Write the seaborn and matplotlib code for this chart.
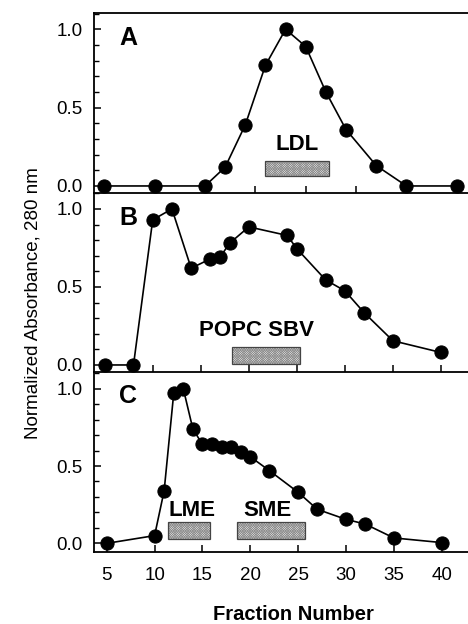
import matplotlib
matplotlib.use("Agg")
import matplotlib.pyplot as plt
import pandas as pd
import seaborn as sns
from matplotlib.patches import Rectangle
from matplotlib.ticker import MultipleLocator

# ---- data ----
a_frac = [5, 10, 15, 17, 19, 21, 23, 25, 27, 29, 32, 35, 40]
a_abs = [0.0, 0.0, 0.0, 0.12, 0.39, 0.77, 1.0, 0.89, 0.60, 0.36, 0.13, 0.0, 0.0]

b_frac = [5, 8, 10, 12, 14, 16, 17, 18, 20, 24, 25, 28, 30, 32, 35, 40]
b_abs = [0.0, 0.0, 0.93, 1.0, 0.62, 0.68, 0.69, 0.78, 0.885, 0.83, 0.745,
         0.545, 0.475, 0.335, 0.155, 0.08]

c_frac = [5, 10, 11, 12, 13, 14, 15, 16, 17, 18, 19, 20, 22, 25, 27, 30, 32, 35, 40]
c_abs = [0.0, 0.05, 0.34, 0.97, 1.0, 0.74, 0.64, 0.64, 0.62, 0.62, 0.59, 0.56,
         0.47, 0.33, 0.22, 0.155, 0.125, 0.035, 0.005]

panel_letters = ["A", "B", "C"]

# elution bands: panel index, name, x-range, y-range, label position
band_panel = [0, 1, 2, 2]
band_name = ["LDL", "POPC SBV", "LME", "SME"]
band_x0 = [21.0, 18.3, 11.4, 18.6]
band_x1 = [27.3, 25.3, 15.8, 25.7]
band_y0 = [0.065, 0.005, 0.028, 0.028]
band_y1 = [0.16, 0.113, 0.14, 0.14]
band_lx = [24.1, 20.75, 13.9, 21.8]
band_ly = [0.265, 0.224, 0.21, 0.21]

x_ticks = [5, 10, 15, 20, 25, 30, 35, 40]
y_ticks = [0.0, 0.5, 1.0]
y_ticklabels = ["0.0", "0.5", "1.0"]

x_label = "Fraction Number"
y_label = "Normalized Absorbance, 280 nm"

# ---- styling ----
sns.set_style("ticks")
plt.rcParams["font.family"] = ["Liberation Sans", "DejaVu Sans"]
plt.rcParams["hatch.linewidth"] = 0.5
for key in ["text.color", "axes.labelcolor", "xtick.color", "ytick.color", "axes.edgecolor"]:
    plt.rcParams[key] = "black"

W, H = 468, 624
fig = plt.figure(figsize=(W / 100, H / 100), dpi=100)

# panel boxes in pixels (left, top, right, bottom)
px_boxes = [(94, 13, 468, 192.7), (94, 192.7, 468, 372.3), (94, 372.3, 468, 551.7)]
xlims = [(3.98, 41.11), (3.89, 42.81), (3.67, 42.75)]
ylims = [(-0.043, 1.104), (-0.047, 1.104), (-0.054, 1.106)]

series = [(a_frac, a_abs), (b_frac, b_abs), (c_frac, c_abs)]

for i, (l, t, r, b) in enumerate(px_boxes):
    ax = fig.add_axes([l / W, 1 - b / H, (r - l) / W, (b - t) / H])
    df = pd.DataFrame({"frac": series[i][0], "abs": series[i][1]})
    sns.lineplot(data=df, x="frac", y="abs", ax=ax, color="black", linewidth=1.2,
                 marker="o", markersize=9.5, markeredgecolor="black",
                 markerfacecolor="black", zorder=5)
    ax.set_xlim(*xlims[i])
    ax.set_ylim(*ylims[i])
    ax.set_xticks(x_ticks)
    ax.set_yticks(y_ticks)
    ax.set_yticklabels(y_ticklabels)
    ax.yaxis.set_minor_locator(MultipleLocator(0.1))
    ax.tick_params(axis="both", which="major", direction="in", length=5, width=1.1,
                   labelsize=13.5, color="black", labelcolor="black")
    ax.tick_params(axis="y", which="major", pad=8)
    ax.tick_params(axis="y", which="minor", direction="in", length=3.5, width=1.0,
                   color="black", left=True)
    ax.tick_params(axis="x", which="major", pad=11)
    if i < 2:
        ax.tick_params(axis="x", labelbottom=False)
    ax.set_xlabel("")
    ax.set_ylabel("")
    ax.spines["right"].set_visible(False)
    if i > 0:
        ax.spines["top"].set_visible(False)
    for s in ["left", "bottom", "top"]:
        ax.spines[s].set_linewidth(1.3)
        ax.spines[s].set_color("black")
    ax.patch.set_alpha(0)

    # panel letter
    ax.text(0.092, 0.86 if i < 2 else 0.87, panel_letters[i],
            transform=ax.transAxes, fontsize=18, fontweight="bold",
            ha="center", va="center")

    # bands
    for k in range(len(band_name)):
        if band_panel[k] != i:
            continue
        w = band_x1[k] - band_x0[k]
        h = band_y1[k] - band_y0[k]
        ax.add_patch(Rectangle((band_x0[k], band_y0[k]), w, h, facecolor="#e6e6e6",
                               edgecolor="#8c8c8c", hatch="x" * 14, linewidth=0,
                               zorder=3))
        ax.add_patch(Rectangle((band_x0[k], band_y0[k]), w, h, fill=False,
                               edgecolor="#444444", linewidth=0.9, zorder=4))
        ax.text(band_lx[k], band_ly[k], band_name[k], fontsize=16, fontweight="bold",
                ha="center", va="center", zorder=6)

fig.text(293 / W, 1 - 615 / H, x_label, fontsize=14.5, fontweight="bold",
         ha="center", va="center")
fig.text(33 / W, 1 - 303 / H, y_label, fontsize=13.5, rotation=90,
         ha="center", va="center")

fig.savefig("out.png", dpi=100)
